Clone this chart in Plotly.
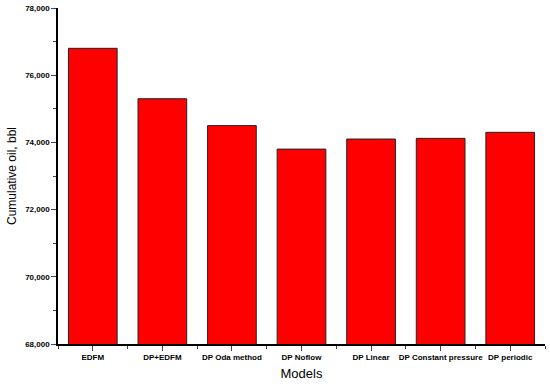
import plotly.graph_objects as go

categories = ["EDFM", "DP+EDFM", "DP Oda method", "DP Noflow", "DP Linear",
              "DP Constant pressure", "DP periodic"]
cum_oil = [76800, 75300, 74500, 73800, 74100, 74120, 74300]
y_ticks = [68000, 70000, 72000, 74000, 76000, 78000]
y_tick_labels = ["68,000", "70,000", "72,000", "74,000", "76,000", "78,000"]

positions = list(range(len(categories)))

fig = go.Figure(go.Bar(
    x=positions, y=cum_oil, width=0.7,
    marker=dict(color="#ff0000", line=dict(color="#222222", width=1)),
))

fig.update_layout(
    width=550, height=387,
    margin=dict(l=58, r=5, t=8, b=43),
    paper_bgcolor="white", plot_bgcolor="white",
    showlegend=False,
    font=dict(family="Arial, Liberation Sans, sans-serif", color="black"),
)
fig.update_xaxes(
    range=[-0.5, 6.5], tickmode="array", tickvals=positions,
    ticktext=["<b>%s</b>" % c for c in categories],
    tickfont=dict(size=8), ticks="outside", ticklen=5, tickwidth=1.2,
    showline=True, linecolor="black", linewidth=1.5, showgrid=False, zeroline=False,
    minor=dict(ticks="outside", ticklen=3, tickwidth=1, tick0=0.5, dtick=1, showgrid=False),
    title=dict(text="Models", font=dict(size=13), standoff=8),
)
fig.update_yaxes(
    range=[68000, 78000], tickmode="array", tickvals=y_ticks,
    ticktext=["<b>%s</b>" % t for t in y_tick_labels],
    tickfont=dict(size=8), ticks="outside", ticklen=5, tickwidth=1.2,
    showline=True, linecolor="black", linewidth=1.5, showgrid=False, zeroline=False,
    minor=dict(ticks="outside", ticklen=3, tickwidth=1, tick0=69000, dtick=2000, showgrid=False),
    title=dict(text="Cumulative oil, bbl", font=dict(size=12), standoff=6),
)

fig.write_html("out.html", config={"displayModeBar": False},
               post_script="document.body.style.margin='0';")
